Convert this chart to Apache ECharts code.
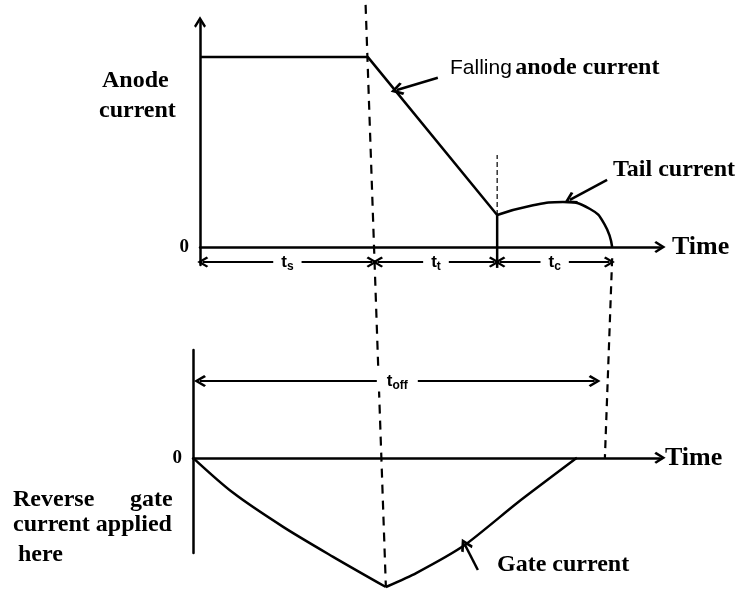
<!DOCTYPE html>
<html>
<head>
<meta charset="utf-8">
<script src="https://cdn.jsdelivr.net/npm/echarts@6/dist/echarts.min.js"></script>
<style>
  html, body { margin: 0; padding: 0; background: #fff; }
  #chart { width: 747px; height: 590px; }
</style>
</head>
<body>
<div id="chart"></div>
<script>
// top panel: anode current, time in arbitrary units (0 - 100)
const anodeT = [0, 36.5, 64.6];
const anodeI = [84.4, 84.4, 14.2];
const tailT = [64.6, 71.7, 78.9, 84.8, 88, 89.6];
const tailI = [14.2, 18.2, 20, 16.9, 9.8, 0];
const stepT = [64.6, 64.6, 64.6];
const stepI = [-9.3, 14.2, 40.9];
// interval boundaries  ts | tt | tc
const phaseT = [0, 38, 64.6, 89.6];
const phaseSub = ['s', 't', 'c'];
const dimLevel = -6.7;

// bottom panel: gate current
const gateFallT = [0, 8.6, 19.3, 30, 41.3];
const gateFallI = [0, -27.6, -54.4, -78, -101.8];
const gateRiseT = [41.3, 47.8, 58.2, 69.4, 82.2];
const gateRiseI = [-101.8, -90.8, -68.7, -35.6, 0];
const toffT = [1.5, 86];
const toffLevel = 60.5;

// callout pointers [from, to]
const fallPointer = [[51.7, 75.2], [42.8, 69.8]];
const tailPointer = [[88.5, 29.8], [80.4, 20.9]];
const gatePointer = [[61, -88.4], [58.2, -68.3]];

// dashed guides
const guideTop = [36, 107.6];          // top panel, above the ts / tt boundary
const guideRightTop = [89.6, -5];      // top panel, end of tc
const guideRightBottom = [88.2, 0];    // bottom panel, zero line

const SERIF = '"Liberation Serif", "DejaVu Serif", serif';
const HAND = '"Liberation Sans", "DejaVu Sans", sans-serif';
const chevron = 'path://M5,0 L10,8 L8.5,9.4 L5,3.8 L1.5,9.4 L0,8 Z';
const ink = '#000';

const zip = (a, b) => a.map((v, i) => [v, b[i]]);
const plain = (idx, data, extra) => Object.assign({
  type: 'line', xAxisIndex: idx, yAxisIndex: idx, data: data,
  showSymbol: false, symbol: 'none', clip: false, silent: true,
  lineStyle: { color: ink, width: 2.5 }
}, extra || {});

const subRich = {
  t: { fontFamily: HAND, fontSize: 17, fontWeight: 'bold', color: ink },
  s: { fontFamily: HAND, fontSize: 12, fontWeight: 'bold', color: ink, padding: [9, 0, 0, 0] }
};

const dims = phaseSub.map((s, i) => ({
  coords: [[phaseT[i] + 0.6, dimLevel], [phaseT[i + 1] - 0.6, dimLevel]],
  label: { formatter: '{t|t}{s|' + s + '}' }
}));

const axisBase = (idx) => ({
  gridIndex: idx, type: 'value', min: 0, max: 100,
  axisTick: { show: false }, axisLabel: { show: false }, splitLine: { show: false },
  axisLine: { onZero: true, symbol: ['none', chevron], symbolSize: [12, 12], lineStyle: { color: ink, width: 2.5 } },
  name: 'Time', nameLocation: 'end',
  nameTextStyle: { fontFamily: SERIF, fontSize: 26, fontWeight: 'bold', color: ink }
});

const dimLabel = {
  show: true, position: 'middle', distance: 0, verticalAlign: 'middle',
  backgroundColor: '#fff', rich: subRich
};

const option = {
  animation: false,
  backgroundColor: '#fff',
  grid: [
    { left: 200, right: 87, top: 22, bottom: 325 },
    { left: 193, right: 87, top: 350, bottom: 37 }
  ],
  xAxis: [
    Object.assign(axisBase(0), { nameGap: 12 }),
    Object.assign(axisBase(1), { nameGap: 5 })
  ],
  yAxis: [
    {
      gridIndex: 0, type: 'value', min: -8, max: 100,
      axisTick: { show: false }, splitLine: { show: false },
      axisLabel: { customValues: [0], margin: 11, fontFamily: SERIF, fontSize: 19, fontWeight: 'bold', color: ink },
      axisLine: { symbol: ['none', chevron], symbolSize: [12, 12], lineStyle: { color: ink, width: 2.5 } }
    },
    {
      gridIndex: 1, type: 'value', min: -75, max: 85,
      axisTick: { show: false }, splitLine: { show: false },
      axisLabel: { customValues: [0], margin: 11, fontFamily: SERIF, fontSize: 19, fontWeight: 'bold', color: ink },
      axisLine: { lineStyle: { color: ink, width: 2.5 } }
    }
  ],
  series: [
    plain(0, zip(anodeT, anodeI)),
    plain(0, zip(tailT, tailI), { smooth: 0.5 }),
    plain(0, zip(stepT.slice(0, 2), stepI.slice(0, 2))),
    plain(0, zip(stepT.slice(1), stepI.slice(1)), { lineStyle: { color: ink, width: 1.2, type: [5, 3] } }),
    plain(1, zip(gateFallT, gateFallI), { smooth: 0.3 }),
    plain(1, zip(gateRiseT, gateRiseI), { smooth: 0.2 }),
    {
      type: 'lines', coordinateSystem: 'cartesian2d', xAxisIndex: 0, yAxisIndex: 0,
      clip: false, silent: true,
      symbol: [chevron, chevron], symbolSize: [11, 11],
      lineStyle: { color: ink, width: 2.2, curveness: 0, opacity: 1 },
      label: Object.assign({ padding: [0, 8] }, dimLabel),
      data: dims
    },
    {
      type: 'lines', coordinateSystem: 'cartesian2d', xAxisIndex: 1, yAxisIndex: 1,
      clip: false, silent: true,
      symbol: [chevron, chevron], symbolSize: [12, 12],
      lineStyle: { color: ink, width: 2.2, curveness: 0, opacity: 1 },
      label: Object.assign({ padding: [0, 10], formatter: '{t|t}{s|off}' }, dimLabel),
      data: [{ coords: [[toffT[0], toffLevel], [toffT[1], toffLevel]] }]
    },
    {
      type: 'lines', coordinateSystem: 'cartesian2d', xAxisIndex: 0, yAxisIndex: 0,
      clip: false, silent: true,
      symbol: ['none', chevron], symbolSize: [13, 13],
      lineStyle: { color: ink, width: 2.5, curveness: 0, opacity: 1 },
      data: [{ coords: fallPointer }, { coords: tailPointer }]
    },
    {
      type: 'lines', coordinateSystem: 'cartesian2d', xAxisIndex: 1, yAxisIndex: 1,
      clip: false, silent: true,
      symbol: ['none', chevron], symbolSize: [13, 13],
      lineStyle: { color: ink, width: 2.5, curveness: 0, opacity: 1 },
      data: [{ coords: gatePointer }]
    }
  ]
};

const chart = echarts.init(document.getElementById('chart'));
chart.setOption(option);

// dashed guides spanning both panels, placed through the axes
const gTop = chart.convertToPixel({ gridIndex: 0 }, guideTop);
const gBot = chart.convertToPixel({ gridIndex: 1 }, [gateFallT[gateFallT.length - 1], gateFallI[gateFallI.length - 1]]);
const rTop = chart.convertToPixel({ gridIndex: 0 }, guideRightTop);
const rBot = chart.convertToPixel({ gridIndex: 1 }, guideRightBottom);

const txt = (text, x, y, size, family) => ({
  type: 'text', x: x, y: y, silent: true,
  style: {
    text: text, fill: ink, textAlign: 'left', textVerticalAlign: 'middle',
    font: 'bold ' + size + 'px ' + (family || SERIF)
  }
});

chart.setOption({
  graphic: [
    {
      type: 'line', silent: true,
      shape: { x1: gTop[0], y1: gTop[1], x2: gBot[0], y2: gBot[1] },
      style: { stroke: ink, lineWidth: 2.2, lineDash: [9, 7] }
    },
    {
      type: 'line', silent: true,
      shape: { x1: rTop[0], y1: rTop[1], x2: rBot[0], y2: rBot[1] },
      style: { stroke: ink, lineWidth: 2.2, lineDash: [8, 6] }
    },
    txt('Anode', 102, 81, 24),
    txt('current', 99, 111, 24),
    {
      type: 'text', x: 450, y: 68, silent: true,
      style: {
        text: '{a|Falling} {b|anode current}', textAlign: 'left', textVerticalAlign: 'middle',
        rich: {
          a: { fontFamily: HAND, fontSize: 21, color: ink },
          b: { fontFamily: SERIF, fontSize: 24, fontWeight: 'bold', color: ink }
        }
      }
    },
    txt('Tail current', 613, 170, 24),
    txt('Gate current', 497, 565, 24),
    txt('Reverse', 13, 500, 24),
    txt('gate', 130, 500, 24),
    txt('current applied', 13, 525, 24),
    txt('here', 18, 555, 24)
  ]
});
</script>
</body>
</html>
